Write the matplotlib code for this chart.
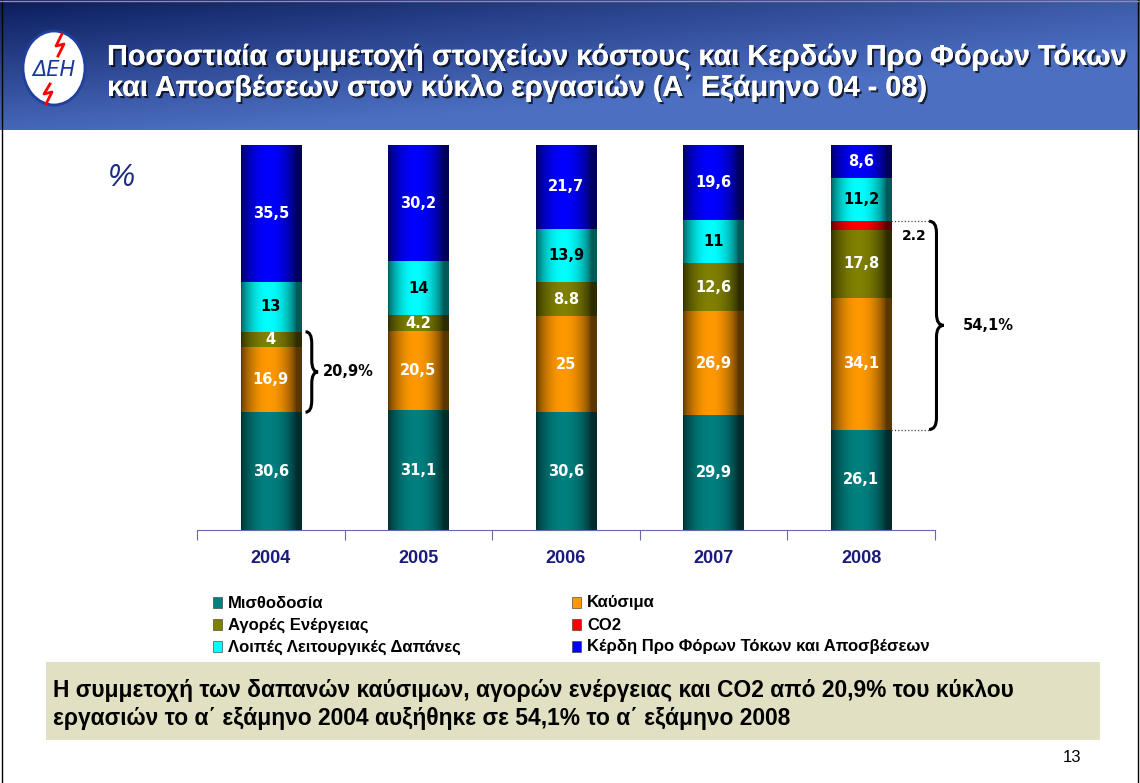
import matplotlib
matplotlib.use('Agg')
import matplotlib.pyplot as plt
import numpy as np
from matplotlib import patches
from matplotlib import patheffects
from matplotlib.colors import to_rgb
from matplotlib.path import Path

# data (percent of turnover, first half of each year)
years = ['2004', '2005', '2006', '2007', '2008']
series_names = ['Μισθοδοσία', 'Καύσιμα', 'Αγορές Ενέργειας', 'CO2',
                'Λοιπές Λειτουργικές Δαπάνες',
                'Κέρδη Προ Φόρων Τόκων και Αποσβέσεων']
payroll = [30.6, 31.1, 30.6, 29.9, 26.1]
fuel = [16.9, 20.5, 25.0, 26.9, 34.1]
energy_buy = [4.0, 4.2, 8.8, 12.6, 17.8]
co2 = [0.0, 0.0, 0.0, 0.0, 2.2]
other_opex = [13.0, 14.0, 13.9, 11.0, 11.2]
ebitda = [35.5, 30.2, 21.7, 19.6, 8.6]
payroll_lbl = ['30,6', '31,1', '30,6', '29,9', '26,1']
fuel_lbl = ['16,9', '20,5', '25', '26,9', '34,1']
energy_lbl = ['4', '4.2', '8.8', '12,6', '17,8']
co2_lbl = ['', '', '', '', '2.2']
opex_lbl = ['13', '14', '13,9', '11', '11,2']
ebitda_lbl = ['35,5', '30,2', '21,7', '19,6', '8,6']
share_2004 = '20,9%'
share_2008 = '54,1%'

colors = ['#008080', '#FF9900', '#808000', '#FF0000', '#00FFFF', '#0000FF']
label_colors = ['white', 'white', 'white', 'black', 'black', 'white']

W, H = 1140, 783


def fx(x):
    return x / W


def fy(y):
    return 1 - y / H


fig = plt.figure(figsize=(11.4, 7.83), dpi=100)
fig.patch.set_facecolor('white')

# header banner
hax = fig.add_axes([0, fy(130), 1, 130 / H])
hax.set_axis_off()
gx, gy = np.meshgrid(np.linspace(0, 1, 300), np.linspace(0, 1, 60))
v = np.clip(0.75 * gx + 0.9 * gy - 0.25 * gx * gy, 0, 1)
dark = np.array(to_rgb('#0c1d5e'))
light = np.array(to_rgb('#4c6fc2'))
img = dark[None, None, :] * (1 - v[..., None]) + light[None, None, :] * v[..., None]
hax.imshow(img, aspect='auto', extent=[0, 1, 0, 1])
hax.set_xlim(0, 1)
hax.set_ylim(0, 1)

# logo
fig.patches.append(patches.Ellipse((fx(54), fy(68)), 62 / W, 74 / H,
                                   transform=fig.transFigure,
                                   facecolor='white', edgecolor='#2040a0',
                                   lw=2, zorder=5))
fig.text(fx(54), fy(70), 'ΔΕΗ', ha='center', va='center', fontsize=15,
         style='italic', color='#1a3a9a', family='DejaVu Sans', zorder=6)
fig.lines.append(plt.Line2D([fx(62), fx(56), fx(64), fx(58)],
                            [fy(34), fy(46), fy(44), fy(56)],
                            transform=fig.transFigure, color='red', lw=2,
                            zorder=6))
fig.lines.append(plt.Line2D([fx(50), fx(44), fx(52), fx(46)],
                            [fy(84), fy(94), fy(92), fy(104)],
                            transform=fig.transFigure, color='red', lw=2,
                            zorder=6))

shadow = [patheffects.withSimplePatchShadow(offset=(1.5, -1.5),
                                            shadow_rgbFace='black', alpha=0.7),
          patheffects.Normal()]
fig.text(fx(107), fy(57),
         'Ποσοστιαία συμμετοχή στοιχείων κόστους και Κερδών Προ Φόρων Τόκων',
         ha='left', va='center', fontsize=20.8, fontweight='bold',
         color='white', family='Liberation Sans', path_effects=shadow)
fig.text(fx(107), fy(88),
         'και Αποσβέσεων στον κύκλο εργασιών (Α΄ Εξάμηνο 04 - 08)',
         ha='left', va='center', fontsize=20.8, fontweight='bold',
         color='white', family='Liberation Sans', path_effects=shadow)

fig.text(fx(108), fy(178), '%', ha='left', va='center', fontsize=22,
         style='italic', color='#1a2a80', family='Liberation Sans')

# main chart
ax = fig.add_axes([fx(197), fy(530), (935 - 197) / W, (530 - 145) / H])
x = np.arange(len(years))
width = 0.41
stack = [payroll, fuel, energy_buy, co2, other_opex, ebitda]
labels = [payroll_lbl, fuel_lbl, energy_lbl, co2_lbl, opex_lbl, ebitda_lbl]

prof = np.linspace(0, 1, 128)
shade = 0.35 + 0.65 * np.sin(np.pi * np.clip(prof * 1.1, 0, 1)) ** 0.7
bottom = np.zeros(len(years))
for vals, col, lbls, lc in zip(stack, colors, labels, label_colors):
    vals = np.array(vals)
    bars = ax.bar(x, vals, width, bottom=bottom, color=col, linewidth=0)
    base = np.array(to_rgb(col))
    grad = np.clip(base[None, None, :] * shade[None, :, None], 0, 1)
    for b, v, t in zip(bars, vals, lbls):
        if v <= 0:
            continue
        im = ax.imshow(grad, aspect='auto', interpolation='bilinear',
                       extent=[b.get_x(), b.get_x() + b.get_width(),
                               b.get_y(), b.get_y() + b.get_height()],
                       zorder=2)
        im.set_clip_path(b)
        if col == '#FF0000':
            ax.text(b.get_x() + b.get_width() + 0.07, b.get_y() - 1.6, t,
                    ha='left', va='center', fontsize=10, fontweight='bold',
                    color='black', family='DejaVu Sans')
        else:
            ax.text(b.get_x() + b.get_width() / 2, b.get_y() + v / 2, t,
                    ha='center', va='center', fontsize=10.5,
                    fontweight='bold', color=lc, family='DejaVu Sans',
                    zorder=4)
    bottom += vals

ax.set_xlim(-0.5, 4.5)
ax.set_ylim(0, 100)
for s in ['top', 'right', 'left']:
    ax.spines[s].set_visible(False)
ax.spines['bottom'].set_color('#6a6aa8')
ax.set_yticks([])
ax.set_xticks(np.arange(-0.5, 5, 1))
ax.set_xticklabels([])
ax.tick_params(axis='x', length=7, color='#6a6aa8', direction='out')
for xi, yr in zip(x, years):
    ax.text(xi, -7.5, yr, ha='center', va='center', fontsize=13,
            fontweight='bold', color='#1a1a80', family='Liberation Sans')


def brace(ax, xb, y0, y1, w, d):
    ym = (y0 + y1) / 2
    xm = xb + w / 2
    verts = [(xb, y1), (xm, y1), (xm, y1 - d), (xm, ym + d), (xm, ym),
             (xb + w, ym), (xm, ym), (xm, ym - d), (xm, y0 + d), (xm, y0),
             (xb, y0)]
    codes = [Path.MOVETO, Path.CURVE3, Path.CURVE3, Path.LINETO,
             Path.CURVE3, Path.CURVE3, Path.CURVE3, Path.CURVE3,
             Path.LINETO, Path.CURVE3, Path.CURVE3]
    ax.add_patch(patches.PathPatch(Path(verts, codes), facecolor='none',
                                   edgecolor='black', lw=2.2, clip_on=False))


# 2004 brace: fuel + energy purchases
b04_lo = payroll[0]
b04_hi = payroll[0] + fuel[0] + energy_buy[0] + co2[0]
brace(ax, 0.235, b04_lo, b04_hi, 0.085, 3.0)
ax.text(0.35, (b04_lo + b04_hi) / 2, share_2004, ha='left', va='center',
        fontsize=10.5, fontweight='bold', family='DejaVu Sans')

# 2008 brace: fuel + energy purchases + CO2
b08_lo = payroll[4]
b08_hi = payroll[4] + fuel[4] + energy_buy[4] + co2[4]
brace(ax, 4.46, b08_lo, b08_hi, 0.1, 3.0)
for yy in (b08_lo, b08_hi):
    ax.plot([4 + width / 2, 4.46], [yy, yy], ls=':', color='#404040', lw=0.9,
            clip_on=False)
ax.text(4.69, (b08_lo + b08_hi) / 2, share_2008, ha='left', va='center',
        fontsize=10.5, fontweight='bold', family='DejaVu Sans')

# legend drawn manually in two columns
leg_pos = [(213, 603), (572, 603), (213, 625), (572, 625), (213, 647),
           (572, 647)]
for (lx, ly), i in zip(leg_pos, range(len(series_names))):
    fig.patches.append(patches.Rectangle((fx(lx), fy(ly + 5)), 9 / W, 11 / H,
                                         transform=fig.transFigure,
                                         facecolor=colors[i],
                                         edgecolor='#303030', lw=0.4))
    fig.text(fx(lx + 15), fy(ly), series_names[i], ha='left', va='center',
             fontsize=12, fontweight='bold', family='Liberation Sans')

# comment box
fig.patches.append(patches.Rectangle((fx(46), fy(740)), (1100 - 46) / W,
                                     (740 - 662) / H,
                                     transform=fig.transFigure,
                                     facecolor='#E1E0C3', edgecolor='none'))
fig.text(fx(53), fy(691),
         'Η συμμετοχή των δαπανών καύσιμων, αγορών ενέργειας και CO2 από 20,9% του κύκλου',
         ha='left', va='center', fontsize=16.4, fontweight='bold',
         family='Liberation Sans')
fig.text(fx(53), fy(718),
         'εργασιών το α΄ εξάμηνο 2004 αυξήθηκε σε 54,1% το α΄ εξάμηνο 2008',
         ha='left', va='center', fontsize=16.4, fontweight='bold',
         family='Liberation Sans')
fig.text(fx(1072), fy(757), '13', ha='center', va='center', fontsize=12,
         family='Liberation Sans')

# slide frame
for xl in (1.5, 1137.5):
    fig.lines.append(plt.Line2D([fx(xl), fx(xl)], [0, 1],
                                transform=fig.transFigure, color='black',
                                lw=1))
fig.lines.append(plt.Line2D([0, fx(1138)], [fy(1), fy(1)],
                            transform=fig.transFigure, color='#909090', lw=1))

fig.savefig('out.png', dpi=100)
